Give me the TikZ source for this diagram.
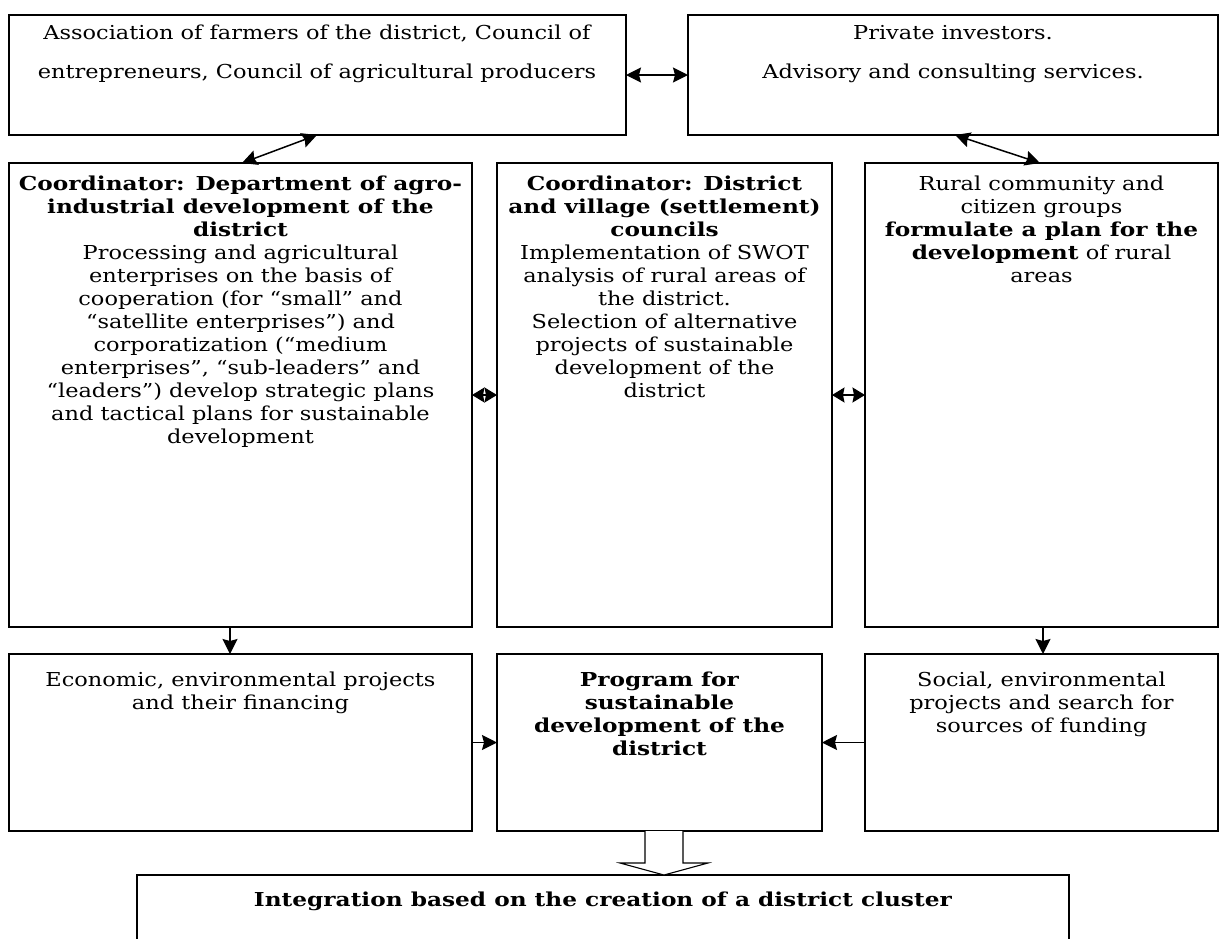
\documentclass[tikz,border=0pt]{standalone}
\usepackage{fontspec}
\setmainfont{DejaVu Serif}[FakeStretch=1.17, BoldFeatures={FakeStretch=1.21}]
\usetikzlibrary{arrows.meta,calc}
\newcommand\myfs{\fontsize{19.2}{23}\selectfont\lineskiplimit=-20pt\lineskip=0pt}
\tikzset{
  box/.style={draw, line width=1.5pt, rectangle, inner sep=0pt, outer sep=0pt},
  txt/.style={align=center, inner sep=0pt, outer sep=0pt, anchor=north, font=\myfs},
  tip/.tip={Stealth[length=15pt,width=15pt,inset=2pt]},
  smalltip/.tip={Stealth[length=12.5pt,width=15pt,inset=1.5pt]},
  dbl/.style={line width=1.5pt, tip-tip},
  one/.style={line width=1.5pt, -tip},
  hollow/.style={draw, line width=1.1pt, fill=white, line join=miter},
}
\begin{document}
\begin{tikzpicture}[x=1pt,y=-1pt]
\path[use as bounding box, clip] (0,0) rectangle (1219,938);
\fill[white] (0,0) rectangle (1219,938);

% boxes
\node[box, minimum width=617pt, minimum height=120pt] (tl) at (317.5,75) {};
\node[box, minimum width=530pt, minimum height=120pt] (tr) at (953,75) {};
\node[box, minimum width=463pt, minimum height=464pt] (ml) at (240.5,395) {};
\node[box, minimum width=335pt, minimum height=464pt] (mm) at (664.5,395) {};
\node[box, minimum width=353pt, minimum height=464pt] (mr) at (1041.5,395) {};
\node[box, minimum width=463pt, minimum height=177pt] (bl) at (240.5,742.5) {};
\node[box, minimum width=325pt, minimum height=177pt] (bm) at (659.5,742.5) {};
\node[box, minimum width=353pt, minimum height=177pt] (br) at (1041.5,742.5) {};
\node[inner sep=0pt, outer sep=0pt, minimum width=932pt, minimum height=90pt] (last) at (603,920) {};
\draw[line width=1.5pt] (last.south west) -- (last.north west) -- (last.north east) -- (last.south east);

% texts
\node[txt] (tltext) at (317,23) {\strut Association of farmers of the district, Council of\\[16pt]
  entrepreneurs, Council of agricultural producers};
\node[txt] (trtext) at (953,23) {\strut Private investors.\\[16pt]
  Advisory and consulting services.};
\node[txt] (mltext) at (240.5,174) {\strut\textbf{Coordinator: Department of agro-}\\
  \textbf{industrial development of the}\\
  \textbf{district}\\
  Processing and agricultural\\
  enterprises on the basis of\\
  cooperation (for “small” and\\
  “satellite enterprises”) and\\
  corporatization (“medium\\
  enterprises”, “sub-leaders” and\\
  “leaders”) develop strategic plans\\
  and tactical plans for sustainable\\
  development};
\node[txt] (mmtext) at (664.5,174) {\strut\textbf{Coordinator: District}\\
  \textbf{and village (settlement)}\\
  \textbf{councils}\\
  Implementation of SWOT\\
  analysis of rural areas of\\
  the district.\\
  Selection of alternative\\
  projects of sustainable\\
  development of the\\
  district};
\node[txt] (mrtext) at (1041.5,174) {\strut Rural community and\\
  citizen groups\\
  \textbf{formulate a plan for the}\\
  \textbf{development} of rural\\
  areas};
\node[txt] (bltext) at (240.5,670) {\strut Economic, environmental projects\\
  and their financing};
\node[txt] (bmtext) at (659.5,670) {\strut\textbf{Program for}\\
  \textbf{sustainable}\\
  \textbf{development of the}\\
  \textbf{district}};
\node[txt] (brtext) at (1041.5,670) {\strut Social, environmental\\
  projects and search for\\
  sources of funding};
\node[txt] (lasttext) at (603,890) {\strut\textbf{Integration based on the creation of a district cluster}};

% connectors
\draw[dbl] (tl.east) -- (tr.west);
\draw[dbl] (ml.north -| 242,0) -- (tl.south -| 317,0);
\draw[dbl] (tr.south -| 955,0) -- (mr.north -| 1040,0);
\draw[line width=1.5pt, smalltip-smalltip] (ml.east) -- (mm.west);
\draw[line width=1.5pt, smalltip-smalltip] (mm.east) -- (mr.west);
\draw[one] (ml.south -| 230,0) -- (bl.north -| 230,0);
\draw[one] (mr.south -| 1043,0) -- (br.north -| 1043,0);
\draw[one] (bl.east) -- (bm.west);
\draw[one] (br.west) -- (bm.east);

% hollow arrow
\draw[hollow] (645,831) -- (645,863) -- (620,863) -- (664,875) -- (708,863) -- (683,863) -- (683,831);
\end{tikzpicture}
\end{document}
